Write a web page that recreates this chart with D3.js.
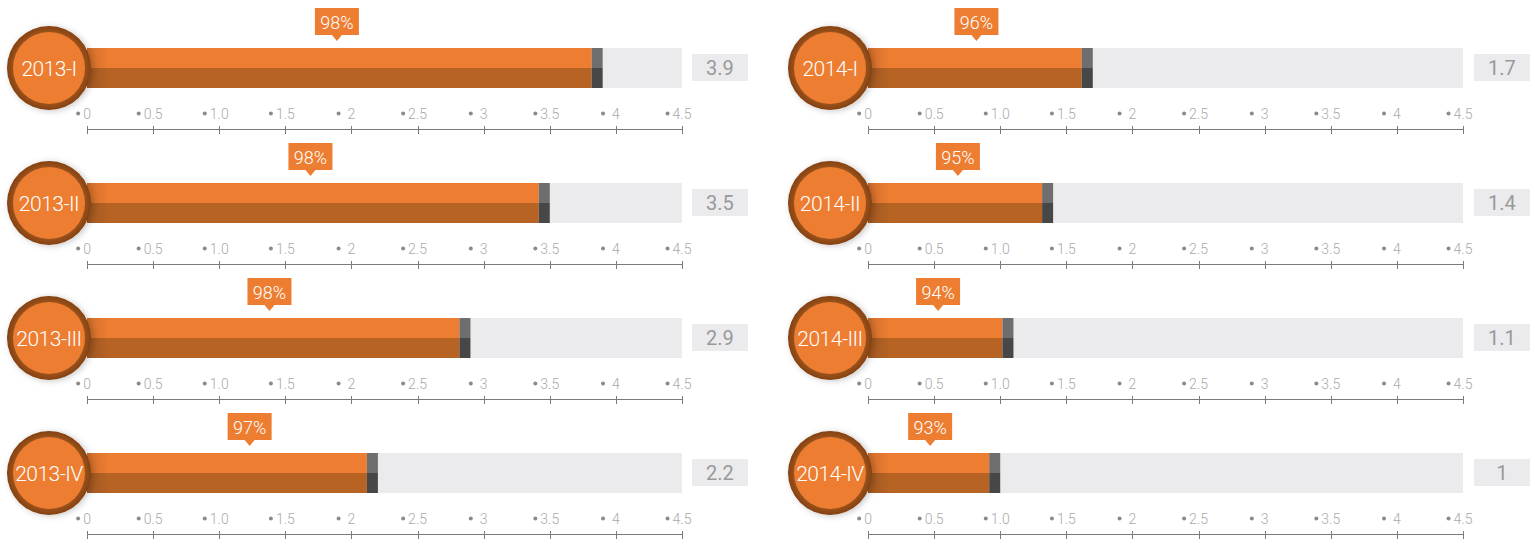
<!DOCTYPE html>
<html><head><meta charset="utf-8">
<script src="https://cdn.jsdelivr.net/npm/d3@7"></script>
<style>
html,body{margin:0;padding:0;background:#fff;}
svg{display:block;font-family:Roboto,"Noto Sans",sans-serif;}
</style></head>
<body><svg id="chart" width="1535" height="544"></svg>
<script>
const categories = ["2013-I","2013-II","2013-III","2013-IV","2014-I","2014-II","2014-III","2014-IV"];
const values = [3.9, 3.5, 2.9, 2.2, 1.7, 1.4, 1.1, 1.0];
const valueLabels = ["3.9","3.5","2.9","2.2","1.7","1.4","1.1","1"];
const percents = [98, 98, 98, 97, 96, 95, 94, 93];
const calloutAt = [1.89, 1.69, 1.38, 1.23, 0.82, 0.68, 0.53, 0.47];
const tickValues = [0, 0.5, 1, 1.5, 2, 2.5, 3, 3.5, 4, 4.5];
const tickLabels = ["0","0.5","1.0","1.5","2","2.5","3","3.5","4","4.5"];

const svg = d3.select("#chart");
const defs = svg.append("defs");
const rg = defs.append("radialGradient").attr("id","ring");
rg.append("stop").attr("offset","80%").attr("stop-color","#a45a22");
rg.append("stop").attr("offset","100%").attr("stop-color","#84400f");
const f = defs.append("filter").attr("id","sh").attr("x","-30%").attr("y","-30%").attr("width","160%").attr("height","160%");
f.append("feDropShadow").attr("dx",2).attr("dy",1).attr("stdDeviation",3).attr("flood-color","#000").attr("flood-opacity",0.22);
const lg = defs.append("linearGradient").attr("id","fade");
lg.append("stop").attr("offset","0%").attr("stop-color","#000").attr("stop-opacity",0.12);
lg.append("stop").attr("offset","100%").attr("stop-color","#000").attr("stop-opacity",0);

const colX = [87, 868];
const rowY0 = 48, rowStep = 135, barH = 40;
const x = d3.scaleLinear().domain([0, 4.5]).range([0, 595]);
const capW = 11;

categories.forEach((cat, i) => {
  const col = i < 4 ? 0 : 1, row = i % 4;
  const g = svg.append("g").attr("transform", `translate(${colX[col]},${rowY0 + row*rowStep})`);
  const v = values[i], p = percents[i];
  g.append("rect").attr("x", x(0)).attr("y", 0).attr("width", x(4.5)-x(0)).attr("height", barH).attr("fill", "#ebebed");
  const endX = x(v);
  g.append("rect").attr("x", x(0)).attr("y", 0).attr("width", endX - capW - x(0)).attr("height", barH/2).attr("fill", "#ed7d31");
  g.append("rect").attr("x", x(0)).attr("y", barH/2).attr("width", endX - capW - x(0)).attr("height", barH/2).attr("fill", "#b66324");
  g.append("rect").attr("x", endX - capW).attr("y", 0).attr("width", capW).attr("height", barH/2).attr("fill", "#6e6e6e");
  g.append("rect").attr("x", endX - capW).attr("y", barH/2).attr("width", capW).attr("height", barH/2).attr("fill", "#474747");
  g.append("rect").attr("x", x(0)).attr("y", 0).attr("width", 22).attr("height", barH).attr("fill", "url(#fade)");

  // callout
  const cx = x(calloutAt[i]);
  const bw = 44, bh = 27, by = -40;
  g.append("rect").attr("x", cx - bw/2).attr("y", by).attr("width", bw).attr("height", bh).attr("fill", "#ed7d31");
  g.append("path").attr("d", `M${cx-5},${by+bh} L${cx+5},${by+bh} L${cx},${by+bh+6} Z`).attr("fill", "#ed7d31");
  g.append("text").attr("x", cx).attr("y", by + bh/2 + 1).attr("text-anchor","middle").attr("dominant-baseline","central")
    .attr("fill","#fff").attr("font-size",18).attr("font-weight",300).text(p + "%");

  // value box
  const vbx = x(4.5) + 10 + (col === 1 ? 1 : 0);
  g.append("rect").attr("x", vbx).attr("y", 6).attr("width", 56).attr("height", 27).attr("fill", "#ebebed");
  g.append("text").attr("x", vbx + 28).attr("y", 20).attr("text-anchor","middle").attr("dominant-baseline","central")
    .attr("fill","#999999").attr("font-size",20).attr("font-weight",400).text(valueLabels[i]);

  // axis
  const axisY = 81.5;
  const ax = g.append("g").attr("transform", `translate(0,${axisY})`);
  ax.append("line").attr("x1", x(0)).attr("x2", x(4.5)).attr("stroke", "#7a7a7a").attr("stroke-width", 1);
  tickValues.forEach((t, k) => {
    const tx = Math.round(x(t)) + 0.5;
    ax.append("line").attr("x1", tx).attr("x2", tx).attr("y1", -3.5).attr("y2", 4.5).attr("stroke", "#7a7a7a").attr("stroke-width", 1);
    const lbl = ax.append("text").attr("x", x(t)).attr("y", -16).attr("text-anchor","middle").attr("dominant-baseline","central")
      .attr("fill","#aaaaaa").attr("font-size",14).attr("font-weight",300).text(tickLabels[k]);
    const w = lbl.node().getComputedTextLength();
    ax.append("circle").attr("cx", x(t) - w/2 - 5 - (tickLabels[k].length === 1 && t > 0 ? 4 : 0)).attr("cy", -16).attr("r", 2).attr("fill", "#8a8a8a");
  });

  // circle
  const ccx = x(0) - 38, ccy = barH/2;
  g.append("circle").attr("cx", ccx).attr("cy", ccy).attr("r", 42).attr("fill", "url(#ring)").attr("filter","url(#sh)");
  g.append("circle").attr("cx", ccx).attr("cy", ccy).attr("r", 36).attr("fill", "#ed7d31");
  g.append("text").attr("x", ccx).attr("y", ccy + 1).attr("text-anchor","middle").attr("dominant-baseline","central")
    .attr("fill","#fff").attr("font-size",21).attr("font-weight",300).attr("letter-spacing",-0.5).text(cat);
});
</script></body></html>
